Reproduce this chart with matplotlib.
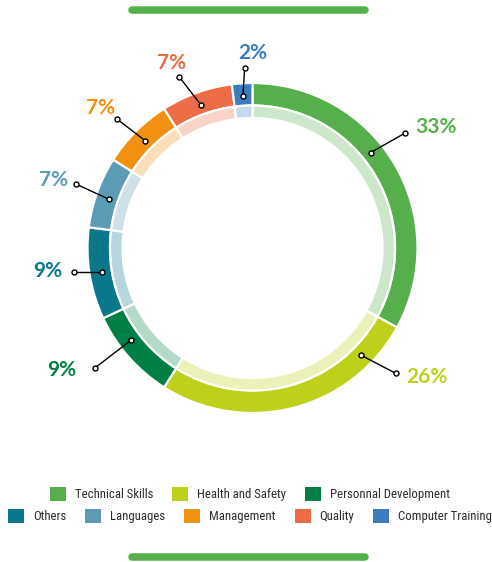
import matplotlib
matplotlib.use("Agg")
import matplotlib.pyplot as plt
from matplotlib import font_manager
from matplotlib.font_manager import FontProperties
from matplotlib.patches import Patch
import numpy as np

# ---- data ----
categories = ["Technical Skills", "Health and Safety", "Personnal Development", "Others",
              "Languages", "Management", "Quality", "Computer Training"]
values = [33, 26, 9, 9, 7, 7, 7, 2]
labels = ["33%", "26%", "9%", "9%", "7%", "7%", "7%", "2%"]
colors = ["#55b04b", "#bfd01a", "#007f44", "#09788a", "#5b9bb5", "#f29111", "#ec6c46", "#3f7cbd"]

# ---- layout / style ----
W, H = 492, 562
CX, CY = 252.5, H - 248
R_OUT, R_MID, R_IN = 165, 142.5, 130
anchor_frac = [0.43, 0.17, 0.63, 0.5, 0.46, 0.5, 0.5, 0.5]
dot_offset = [(34, 19.3), (35, -18.3), (-36.4, -28), (-28.4, 0), (-32.7, 15),
              (-28.4, 21.7), (-21.7, 28), (1.7, 28.3)]
text_offset = [(31.3, 6.5), (31.7, -3.5), (-33.5, -2.3), (-26.3, 0.3), (-22.5, 3.9),
               (-15.6, 11), (-8, 13.5), (7.8, 14.7)]


def lighten(c, a=0.3):
    rgb = np.array(matplotlib.colors.to_rgb(c))
    return tuple(a * rgb + (1 - a) * 1.0)


def has_font(name):
    try:
        font_manager.findfont(FontProperties(family=name), fallback_to_default=False)
        return True
    except Exception:
        return False


label_font = "Lato" if has_font("Lato") else "DejaVu Sans"

fig = plt.figure(figsize=(W / 100, H / 100), dpi=100)
renderer = fig.canvas.get_renderer()

# pick the narrowest installed regular sans font for the legend
prefixes = ["Liberation Sans", "DejaVu Sans", "Roboto", "Open Sans", "Noto Sans", "Lato", "Inter"]
best = None
for fe in font_manager.fontManager.ttflist:
    name = fe.name
    pref = [p for p in prefixes if name.startswith(p)]
    if not pref:
        continue
    rest = name[len(pref[0]):].strip()
    if rest and not any(k in rest for k in ("Condensed", "Narrow")):
        continue
    if fe.style != "normal":
        continue
    try:
        w_ = int(fe.weight)
    except Exception:
        w_ = 400 if fe.weight in ("normal", "regular", "book") else 0
    if w_ < 350 or w_ > 450:
        continue
    try:
        fp = FontProperties(fname=fe.fname, size=10)
        tw, th, td = renderer.get_text_width_height_descent("Technical Skills", fp, ismath=False)
        cw, ch, cd = renderer.get_text_width_height_descent("T", fp, ismath=False)
        ratio = tw / max(ch - cd, 1e-6)
    except Exception:
        continue
    if best is None or ratio < best[0]:
        best = (ratio, fe.fname, tw)

if best is not None:
    leg_size = 10 * 78.0 / best[2]
    leg_prop = FontProperties(fname=best[1], size=leg_size)
else:
    leg_size = 8.5
    leg_prop = FontProperties(family="DejaVu Sans", size=leg_size)
fs_px = leg_size * 100 / 72.0

ax = fig.add_axes([0, 0, 1, 1])

ax.pie(values, radius=R_OUT, center=(CX, CY), startangle=90, counterclock=False,
       colors=colors, wedgeprops=dict(width=R_OUT - R_MID, edgecolor="white", linewidth=1.6))
ax.pie(values, radius=R_MID, center=(CX, CY), startangle=90, counterclock=False,
       colors=[lighten(c) for c in colors],
       wedgeprops=dict(width=R_MID - R_IN, edgecolor="white", linewidth=1.6))

# leader lines and labels
total = sum(values)
start = 90.0
for i, v in enumerate(values):
    span = 360.0 * v / total
    ang = np.deg2rad(start - span * anchor_frac[i])
    start -= span
    x0 = CX + 152 * np.cos(ang)
    y0 = CY + 152 * np.sin(ang)
    x1 = x0 + dot_offset[i][0]
    y1 = y0 + dot_offset[i][1]
    ax.plot([x0, x1], [y0, y1], color="black", lw=1.0, zorder=5)
    ax.plot([x0, x1], [y0, y1], ls="none", marker="o", ms=3.6, mfc="white",
            mec="black", mew=1.0, zorder=6)
    ax.text(x1 + text_offset[i][0], y1 + text_offset[i][1], labels[i], color=colors[i],
            fontsize=15, fontweight="bold", family=label_font, ha="center", va="center",
            zorder=7)

# decorative bars
for yb in (H - 10, 5):
    ax.plot([131.75, 365.25], [yb, yb], color="#55b04b", lw=5.4, solid_capstyle="round")

ax.set_xlim(0, W)
ax.set_ylim(0, H)
ax.set_aspect("equal")
ax.axis("off")

# legend
handles = [Patch(facecolor=c, edgecolor="none") for c in colors]
common = dict(frameon=False, handlelength=16 / fs_px, handleheight=16 / fs_px,
              handletextpad=9 / fs_px, columnspacing=19 / fs_px, prop=leg_prop,
              labelcolor="#2b2b2b", borderaxespad=0, borderpad=0)
leg1 = fig.legend(handles[:3], categories[:3], ncol=3, loc="center",
                  bbox_to_anchor=(250 / W, 1 - 494 / H), **common)
leg2 = fig.legend(handles[3:], categories[3:], ncol=5, loc="center",
                  bbox_to_anchor=(250 / W, 1 - 516 / H), **common)

fig.savefig("out.png", dpi=100)
